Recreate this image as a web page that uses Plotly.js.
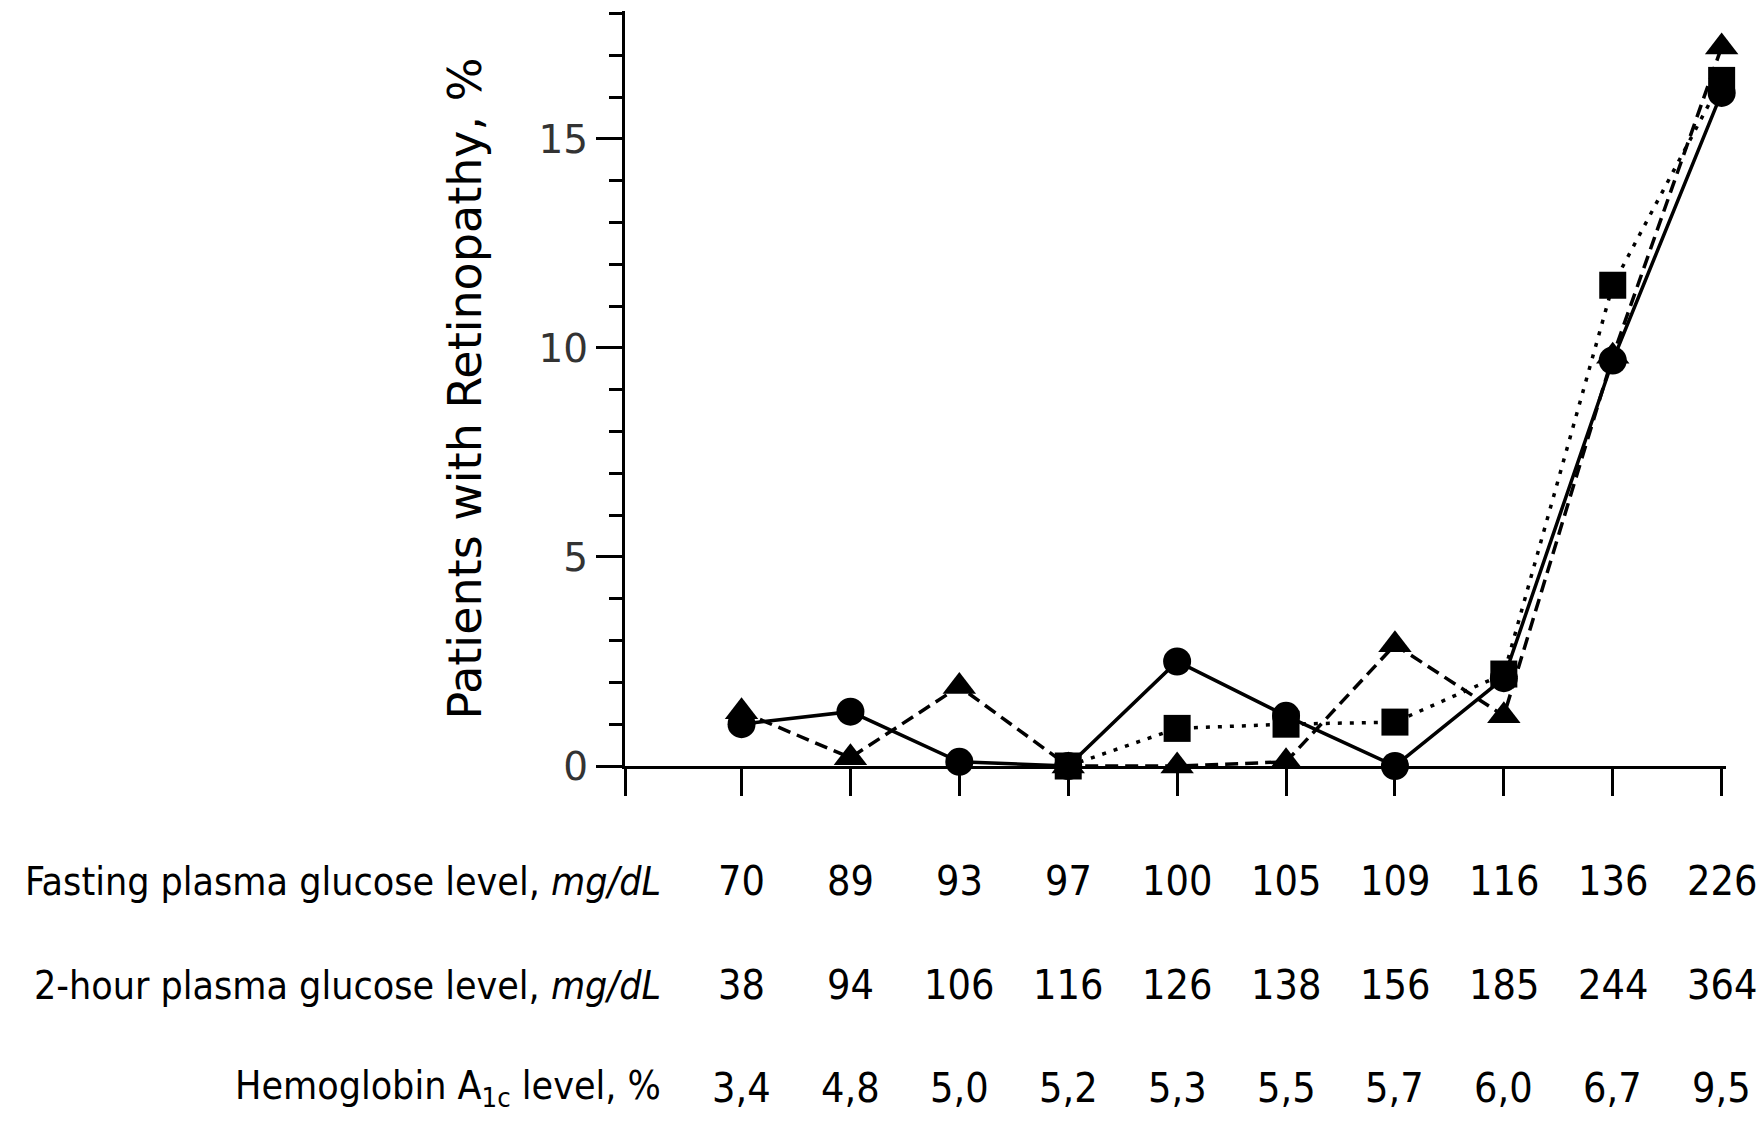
<!DOCTYPE html>
<html>
<head>
<meta charset="utf-8">
<script src="https://cdn.plot.ly/plotly-3.0.1.min.js"></script>
<style>html,body{margin:0;padding:0;background:#fff;}#chart{width:1757px;height:1121px;}</style>
</head>
<body>
<div id="chart"></div>
<script>
// ---- data ----
const deciles = [1, 2, 3, 4, 5, 6, 7, 8, 9, 10];
const fastingGlucose = [70, 89, 93, 97, 100, 105, 109, 116, 136, 226];
const twoHourGlucose = [38, 94, 106, 116, 126, 138, 156, 185, 244, 364];
const hemoglobinA1c = ['3,4', '4,8', '5,0', '5,2', '5,3', '5,5', '5,7', '6,0', '6,7', '9,5'];

const retinopathyFPG = [1.0, 1.3, 0.1, 0, 2.5, 1.2, 0, 2.1, 9.7, 16.1];
const retinopathy2hPG = [1.3, 0.2, 1.9, 0, 0, 0.1, 2.9, 1.2, 9.8, 17.2];
const retinopathyHbA1c = [null, null, null, 0, 0.9, 1.0, 1.05, 2.2, 11.5, 16.4];

const rowLabels = [
  'Fasting plasma glucose level, <i>mg/dL</i>',
  '2-hour plasma glucose level, <i>mg/dL</i>',
  'Hemoglobin A<sub>1c</sub> level, %'
];
const rowValues = [fastingGlucose, twoHourGlucose, hemoglobinA1c];

const yTitle = 'Patients with Retinopathy, %';
const yMajorTicks = [0, 5, 10, 15];

// ---- layout geometry ----
const W = 1757, H = 1121;
const margin = {l: 625, r: 31, t: 11, b: 355};
const plotW = W - margin.l - margin.r;
const plotH = H - margin.t - margin.b;
const xRange = [-0.07, 10.04];
const yRange = [0, 18.06];
const rowCenterPx = [881, 985, 1088];
const labelRightPx = 663;

const condensed = "'DejaVu Sans Condensed', 'Liberation Sans Narrow', 'DejaVu Sans', sans-serif";
const labelFont = {family: condensed, size: 39, color: '#000'};
const valueFont = {family: condensed, size: 41, color: '#000'};

const traces = [
  {
    x: deciles, y: retinopathyFPG, name: 'Fasting plasma glucose',
    type: 'scatter', mode: 'lines+markers', cliponaxis: false,
    line: {color: '#000', width: 3.5, dash: 'solid'},
    marker: {symbol: 'circle', size: 28, color: '#000'}
  },
  {
    x: deciles, y: retinopathy2hPG, name: '2-hour plasma glucose',
    type: 'scatter', mode: 'lines+markers', cliponaxis: false,
    line: {color: '#000', width: 3.5, dash: '13px,7px'},
    marker: {symbol: 'triangle-up', size: 29, color: '#000'}
  },
  {
    x: deciles, y: retinopathyHbA1c, name: 'Hemoglobin A1c',
    type: 'scatter', mode: 'lines+markers', cliponaxis: false,
    line: {color: '#000', width: 3.5, dash: '4px,8px'},
    marker: {symbol: 'square', size: 27, color: '#000'}
  }
];

const annotations = [];
rowLabels.forEach((lab, r) => {
  const yPaper = (H - margin.b - rowCenterPx[r]) / plotH;
  annotations.push({
    text: lab, xref: 'paper', yref: 'paper',
    x: (labelRightPx - margin.l) / plotW, y: yPaper,
    xanchor: 'right', yanchor: 'middle', showarrow: false, font: labelFont
  });
  rowValues[r].forEach((v, i) => {
    annotations.push({
      text: String(v), xref: 'x', yref: 'paper',
      x: deciles[i], y: yPaper,
      xanchor: 'center', yanchor: 'middle', showarrow: false, font: valueFont
    });
  });
});

const layout = {
  width: W, height: H,
  margin: margin,
  paper_bgcolor: '#fff', plot_bgcolor: '#fff',
  showlegend: false,
  xaxis: {
    range: xRange, showgrid: false, zeroline: false,
    showline: true, linecolor: '#000', linewidth: 3,
    ticks: 'outside', ticklen: 27, tickwidth: 3, tickcolor: '#000',
    tickmode: 'array', tickvals: [xRange[0]].concat(deciles),
    showticklabels: false, layer: 'below traces', fixedrange: true
  },
  yaxis: {
    range: yRange, showgrid: false, zeroline: false,
    showline: true, linecolor: '#000', linewidth: 3,
    ticks: 'outside', ticklen: 26, tickwidth: 3, tickcolor: '#000',
    tickmode: 'array', tickvals: yMajorTicks,
    tickfont: {family: "'DejaVu Sans', sans-serif", size: 39, color: '#333'},
    minor: {ticks: 'outside', ticklen: 13, tickwidth: 3, tickcolor: '#000', dtick: 1, tick0: 0, showgrid: false},
    title: {text: yTitle, standoff: 43, font: {family: "'DejaVu Sans', sans-serif", size: 46, color: '#000'}},
    layer: 'below traces', fixedrange: true
  },
  annotations: annotations
};

Plotly.newPlot('chart', traces, layout, {displayModeBar: false, staticPlot: true});
</script>
</body>
</html>
